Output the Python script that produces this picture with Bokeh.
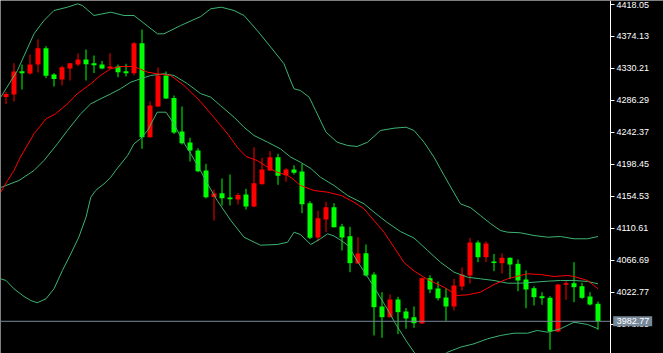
from bokeh.plotting import figure
from bokeh.models import ColumnDataSource, FixedTicker, PrintfTickFormatter, Range1d, LinearAxis
from bokeh.core.properties import value
from bokeh.embed import file_html
from bokeh.resources import INLINE

# ---- candle data (price) ----
opens = [4290.96, 4294.39, 4326.41, 4323.25, 4335.61, 4358.01, 4321.87, 4315.00, 4330.12, 4335.61,
         4342.48, 4337.40, 4335.61, 4330.12, 4332.87, 4326.41, 4323.66, 4364.88, 4235.72, 4277.91,
         4320.50, 4289.58, 4243.56, 4228.44, 4217.45, 4189.97, 4153.56, 4158.78, 4152.87, 4150.12,
         4156.99, 4140.51, 4171.15, 4189.97, 4208.24, 4183.51, 4191.34, 4188.60, 4145.04, 4097.91,
         4122.64, 4139.54, 4113.03, 4099.70, 4062.19, 4076.34, 4047.07, 4003.11, 3988.40, 4012.72,
         3996.24, 3988.40, 3979.75, 4041.99, 4027.84, 4015.47, 4003.11, 4030.59, 4045.70, 4091.04,
         4070.84, 4064.94, 4062.60, 4070.02, 4061.78, 4040.20, 4028.25, 4017.26, 4015.06, 3968.76,
         4032.92, 4035.12, 4031.00, 4016.85, 4006.82]
highs = [4297.83, 4337.40, 4335.61, 4349.35, 4369.96, 4360.76, 4323.66, 4333.83, 4337.40, 4350.73,
         4356.22, 4347.98, 4340.42, 4351.14, 4335.61, 4336.58, 4366.25, 4383.70, 4284.78, 4331.49,
         4326.00, 4293.02, 4277.91, 4234.90, 4220.61, 4199.18, 4163.86, 4178.98, 4184.47, 4159.05,
         4164.83, 4221.98, 4207.42, 4216.49, 4212.92, 4193.13, 4197.25, 4199.18, 4147.79, 4134.60,
         4146.41, 4145.04, 4116.74, 4112.61, 4098.32, 4088.29, 4050.23, 4022.75, 4019.59, 4016.43,
         4001.04, 4003.11, 4042.95, 4046.11, 4037.46, 4028.52, 4041.17, 4056.69, 4097.22, 4093.79,
         4092.42, 4075.24, 4075.93, 4070.43, 4067.68, 4052.57, 4031.00, 4022.75, 4017.26, 4034.30,
         4038.83, 4063.97, 4035.67, 4022.75, 4009.98]
lows = [4281.34, 4284.78, 4301.26, 4321.87, 4324.62, 4316.79, 4305.39, 4306.76, 4313.63, 4333.28,
        4313.63, 4323.93, 4329.16, 4329.71, 4318.16, 4319.13, 4320.50, 4219.79, 4235.31, 4277.22,
        4288.21, 4240.12, 4225.69, 4202.34, 4187.63, 4151.50, 4121.27, 4141.88, 4141.88, 4143.25,
        4136.38, 4139.54, 4170.73, 4189.28, 4170.32, 4174.44, 4184.47, 4131.30, 4095.58, 4092.42,
        4105.19, 4111.65, 4080.05, 4050.23, 4061.50, 4044.33, 3963.26, 3960.10, 3987.99, 3965.05,
        3972.47, 3973.84, 3979.34, 4021.38, 4011.35, 3983.46, 3997.61, 4025.09, 4034.71, 4063.97,
        4063.97, 4051.61, 4048.45, 4041.17, 4024.13, 4000.77, 4004.48, 4005.44, 3943.61, 3967.79,
        4012.31, 4009.01, 4013.69, 4004.48, 3971.09]
closes = [4295.08, 4326.00, 4323.66, 4335.61, 4358.01, 4320.09, 4315.69, 4331.90, 4337.40, 4342.48,
          4336.03, 4334.65, 4330.12, 4332.87, 4325.03, 4323.66, 4364.88, 4235.72, 4279.28, 4320.50,
          4288.90, 4242.18, 4227.48, 4217.45, 4189.01, 4153.28, 4158.37, 4151.91, 4150.54, 4156.31,
          4140.51, 4172.52, 4191.34, 4208.24, 4182.69, 4191.34, 4186.81, 4143.67, 4097.50, 4124.43,
          4139.54, 4112.06, 4097.91, 4062.60, 4075.93, 4045.70, 4002.14, 3988.40, 4012.72, 3995.27,
          3986.62, 3980.16, 4041.99, 4026.46, 4014.51, 4003.11, 4031.96, 4047.07, 4091.04, 4070.84,
          4089.67, 4062.87, 4070.02, 4060.81, 4038.83, 4026.46, 4015.88, 4014.51, 3968.76, 4033.33,
          4035.12, 4029.62, 4015.06, 4005.85, 3982.77]

# ---- indicator lines (bar index, price) ----
upper_x = [-0.66, 1.43, 3.5, 4.75, 6, 7.68, 8.93, 9.55, 11, 13.09, 14.75, 16, 18.93, 19.75, 21.84, 24.34,
           25.6, 26.9, 28.5, 29.75, 31.4, 33.1, 34.75, 35.4, 36, 36.8, 37.9, 38.7, 40, 41.4, 42.7, 43.9,
           45.2, 46.8, 48.5, 50, 51, 52.25, 53.5, 54.3, 55.6, 56.8, 58.1, 59.3, 60.6, 61.8, 62.7, 64.3,
           66, 67.7, 69.3, 71, 72.7, 74]
upper_y = [4290.68, 4327.37, 4377.80, 4396.07, 4409.81, 4414.34, 4419.02, 4416.68, 4402.94, 4407.47,
           4402.94, 4402.94, 4377.80, 4377.80, 4389.20, 4401.57, 4412.15, 4414.34, 4409.81, 4402.94,
           4382.33, 4359.38, 4336.58, 4318.16, 4302.23, 4299.89, 4290.68, 4272.41, 4242.59, 4228.85,
           4224.32, 4222.95, 4228.85, 4244.93, 4248.09, 4249.46, 4244.93, 4228.85, 4208.24, 4192.30,
           4167.02, 4144.21, 4138.71, 4128.14, 4116.73, 4107.53, 4105.19, 4104.37, 4100.66, 4098.32,
           4099.29, 4096.13, 4096.13, 4099.29]
middle_x = [-0.66, 1.63, 3.5, 4.75, 6.43, 7.68, 9.34, 10.6, 11.4, 13.1, 14.3, 15.6, 16.8, 18.1, 19.75, 21,
            22.7, 24.3, 25.6, 26.8, 28.5, 29.75, 31, 32.7, 34.3, 35.6, 36.8, 38.1, 39.3, 41, 42.7, 44.75,
            46, 47.6, 49.3, 51, 52.7, 54.3, 56, 57.7, 59.3, 61, 62.7, 64.3, 66, 67.7, 69.3, 71, 72.7, 74]
middle_y = [4166.61, 4176.23, 4189.97, 4203.71, 4226.66, 4244.93, 4267.88, 4281.61, 4286.15, 4295.34,
            4302.22, 4311.30, 4315.96, 4320.50, 4322.84, 4320.50, 4309.10, 4295.77, 4290.68, 4279.28,
            4263.20, 4249.46, 4238.06, 4228.85, 4219.78, 4208.24, 4201.37, 4192.72, 4180.76, 4169.36,
            4155.62, 4144.21, 4132.75, 4118.93, 4106.16, 4097.22, 4080.05, 4063.97, 4050.23, 4043.36,
            4041.16, 4038.83, 4035.12, 4035.12, 4036.49, 4037.87, 4038.83, 4038.83, 4037.46, 4034.30]
lower_x = [-0.66, 0, 1, 2.25, 3.1, 3.9, 5, 6, 7.05, 8.1, 9.1, 10, 10.6, 11.2, 12.25, 13.1, 13.7, 15.2, 16,
           16.8, 17.7, 18.9, 20, 21, 22.05, 23.1, 24.3, 25.2, 26.4, 28.1, 29.75, 31.8, 33.9, 35.2, 36, 36.8,
           38.1, 39.3, 40.2, 41, 41.9, 42.75, 44, 45.75, 47.4, 48.7, 50, 51, 52.5, 54, 55.2, 56.8, 58.5,
           60.2, 61.8, 63.5, 65.2, 66.4, 67.7, 69.3, 71, 72.7, 74]
lower_y = [4041.16, 4038.83, 4027.42, 4016.85, 4011.35, 4008.19, 4013.69, 4027.42, 4052.57, 4075.51,
           4098.32, 4125.80, 4153.28, 4162.49, 4171.69, 4180.76, 4189.97, 4210.58, 4226.66, 4233.52,
           4244.93, 4270.07, 4270.07, 4254.13, 4231.19, 4212.92, 4189.97, 4171.69, 4148.75, 4121.27,
           4098.32, 4087.33, 4088.29, 4091.45, 4105.19, 4102.03, 4088.29, 4096.13, 4102.99, 4099.97,
           4093.79, 4086.92, 4063.97, 4034.30, 4004.48, 3979.34, 3956.39, 3940.32, 3926.16, 3931.66,
           3940.32, 3947.19, 3951.86, 3958.73, 3963.26, 3966.42, 3966.42, 3970.13, 3967.79, 3972.47,
           3981.54, 3978.37, 3972.47]
ma_x = [-0.66, 0.2, 1, 1.8, 3.5, 5, 6.2, 7.7, 8.9, 10.6, 11.8, 13.1, 14.3, 16, 17.7, 18.9, 20.6, 22.25,
        24.3, 26, 27.7, 28.9, 30, 31.4, 32.7, 33.9, 35.2, 35.8, 36.8, 38.5, 40.2, 41.9, 43.5, 44.75, 46,
        47.25, 48.5, 49.75, 51, 52.7, 54.75, 56.4, 57.7, 59.3, 61, 62.7, 64.3, 65.2, 66.8, 68.5, 70.2, 71,
        72.7, 74]
ma_y = [4160.15, 4176.23, 4189.97, 4208.24, 4240.40, 4260.94, 4267.88, 4281.61, 4295.34, 4309.10,
        4320.50, 4329.71, 4332.87, 4332.87, 4325.03, 4322.84, 4320.50, 4306.76, 4284.78, 4262.79,
        4240.40, 4221.98, 4209.21, 4203.71, 4194.50, 4187.63, 4183.10, 4178.98, 4169.36, 4162.49,
        4160.15, 4155.62, 4146.41, 4137.35, 4121.27, 4105.19, 4084.58, 4063.56, 4051.88, 4040.20,
        4029.62, 4018.22, 4019.17, 4022.75, 4033.33, 4041.16, 4045.70, 4048.03, 4047.07, 4044.33,
        4045.70, 4044.33, 4038.83, 4027.42]

price_ticks = [4418.05, 4374.13, 4330.21, 4286.29, 4242.37, 4198.45, 4154.53, 4110.61, 4066.69,
               4022.77, 3978.85]
last_price = 3982.77

UP = "#ff0000"
DOWN = "#00ff00"
BAND = "#3cb371"

X0, X1 = -0.6875, 82.1875      # full canvas width (663 px, 8 px per bar)
AXIS_AT = 75.5625              # price scale sits at the right edge of the chart area
PX = 8.0                        # px per bar (x);  1 px in price units below
PY = 1.374

idx = list(range(len(opens)))
colors = [UP if c > o else DOWN for o, c in zip(opens, closes)]
tops, bots = [], []
for o, c in zip(opens, closes):
    t, b = max(o, c), min(o, c)
    if t - b < 1.4:
        m = (t + b) / 2
        t, b = m + 0.7, m - 0.7
    tops.append(t)
    bots.append(b)

src = ColumnDataSource(dict(x=idx, high=highs, low=lows, top=tops, bottom=bots, color=colors))

p = figure(width=663, height=353, output_backend="svg", toolbar_location=None,
           x_range=Range1d(X0, X1), y_range=Range1d(3938.52, 4423.55),
           x_axis_location=None, y_axis_location=None,
           min_border_left=0, min_border_top=0, min_border_bottom=0, min_border_right=0,
           background_fill_color="black", border_fill_color="black", outline_line_color=None)
p.grid.visible = False

p.segment(x0="x", y0="low", x1="x", y1="high", color="color", line_width=1, source=src)
p.vbar(x="x", width=0.625, top="top", bottom="bottom", fill_color="color", line_color=None, source=src)

p.line(upper_x, upper_y, line_color=BAND, line_width=1)
p.line(middle_x, middle_y, line_color=BAND, line_width=1)
p.line(lower_x, lower_y, line_color=BAND, line_width=1)
p.line(ma_x, ma_y, line_color="#ff0000", line_width=1)

# bid line across the chart area up to the price scale
p.segment(x0=[X0], y0=[last_price], x1=[AXIS_AT], y1=[last_price], line_color="#778899", line_width=1)

ax = LinearAxis(fixed_location=AXIS_AT)
ax.ticker = FixedTicker(ticks=price_ticks)
ax.formatter = PrintfTickFormatter(format="%.2f")
ax.axis_line_color = "white"
ax.major_tick_line_color = "white"
ax.major_tick_out = 4
ax.major_tick_in = 0
ax.minor_tick_line_color = None
ax.major_label_standoff = 2
ax.major_label_text_color = "white"
ax.major_label_text_font = "Liberation Sans"
ax.major_label_text_font_size = "9px"
p.add_layout(ax, "right")

# current-price tag on the price scale (drawn above the axis)
tag_l = AXIS_AT + 2.7 / PX
p.quad(left=[tag_l], right=[tag_l + 39 / PX], bottom=[last_price - 5 * PY], top=[last_price + 5 * PY],
       fill_color="#778899", line_color=None, level="overlay")
p.text(x=[tag_l + 3.5 / PX], y=[last_price], text=["%.2f" % last_price], text_color="white",
       text_font=value("Liberation Sans"), text_font_size="9px", text_baseline="middle",
       text_align="left", level="overlay")

open("out.html", "w").write(file_html(p, INLINE))
